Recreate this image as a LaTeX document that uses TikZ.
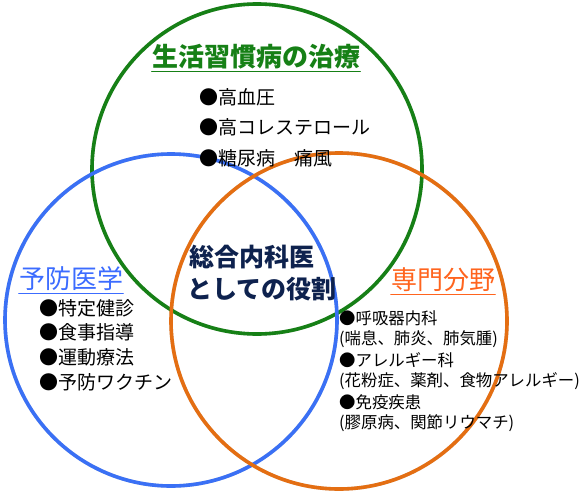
\documentclass[tikz,border=0pt]{standalone}
\usepackage{fontspec}
\setmainfont{Noto Sans CJK JP}
\usepackage{xcolor}
\usepackage{tikz}
\usetikzlibrary{calc,positioning}

\definecolor{ringgreen}{RGB}{22,128,22}
\definecolor{ringblue}{RGB}{58,112,245}
\definecolor{ringorange}{RGB}{228,110,18}
\definecolor{headblue}{RGB}{60,108,255}
\definecolor{headorange}{RGB}{255,100,30}
\definecolor{rolenavy}{RGB}{14,34,78}

\tikzset{
  ring/.style={line width=3.6pt},
  ringshadow/.style={line width=3.6pt, black!14, shift={(1.5,2.5)}},
  headtext/.style={inner sep=0pt, font=\fontsize{26}{26}\selectfont},
  itemtext/.style={anchor=west, inner sep=0pt, font=\fontsize{19}{19}\selectfont},
  smalltext/.style={anchor=west, inner sep=0pt, font=\fontsize{16.4}{16.4}\selectfont},
  roletext/.style={inner sep=0pt, rolenavy, font=\bfseries\fontsize{25}{25}\selectfont},
}

\begin{document}
\begin{tikzpicture}[x=1pt, y=-1pt, line cap=round, line join=round]

% ---------------------------------------------------------
% Parameters (picture is 580 x 492, y runs downwards)
% ---------------------------------------------------------
\pgfmathsetmacro{\Rg}{165}     % radius, green ring
\pgfmathsetmacro{\Rb}{166}     % radius, blue ring
\pgfmathsetmacro{\Ro}{168}     % radius, orange ring
\pgfmathsetmacro{\gap}{30.5}   % line step, green list
\pgfmathsetmacro{\bgap}{24.7}  % line step, blue list
\pgfmathsetmacro{\ogap}{21}    % line step, orange list

\useasboundingbox (0,0) rectangle (580,492);

% ---------------------------------------------------------
% Key points
% ---------------------------------------------------------
\coordinate (G) at (257,169);   % centre, green ring
\coordinate (B) at (171,320);   % centre, blue ring
\coordinate (O) at (339,321);   % centre, orange ring

% ---------------------------------------------------------
% Rings (soft shadow first)
% ---------------------------------------------------------
\draw[ringshadow] (G) circle[radius=\Rg];
\draw[ringshadow] (B) circle[radius=\Rb];
\draw[ringshadow] (O) circle[radius=\Ro];

\draw[ring, ringgreen]  (G) circle[radius=\Rg];
\draw[ring, ringblue]   (B) circle[radius=\Rb];
\draw[ring, ringorange] (O) circle[radius=\Ro];

% ---------------------------------------------------------
% Headings
% ---------------------------------------------------------
\node[headtext, ringgreen, font=\bfseries\fontsize{26}{26}\selectfont]
  (lifestyle) at (256,57) {生活習慣病の治療};
\draw[ringgreen, line width=1.3pt]
  ($(lifestyle.south west)+(0,2)$) -- ($(lifestyle.south east)+(0,2)$);

\node[headtext, headblue] (prevent) at (71,279) {予防医学};
\draw[headblue, line width=1.2pt]
  ($(prevent.south west)+(0,2)$) -- ($(prevent.south east)+(0,2)$);

\node[headtext, headorange] (special) at (443,280) {専門分野};
\draw[headorange, line width=1.2pt]
  ($(special.south west)+(0,2)$) -- ($(special.south east)+(0,2)$);

% ---------------------------------------------------------
% Centre: role of the general internist
% ---------------------------------------------------------
\node[roletext] (role1) at (252,257) {総合内科医};
\node[roletext, below=8pt of role1.south, anchor=north, xshift=10pt]
  (role2) {としての役割};

% ---------------------------------------------------------
% Green list
% ---------------------------------------------------------
\coordinate (gl) at (199,97);
\node[itemtext] (g1) at (gl) {●高血圧};
\node[itemtext] (g2) at ($(gl)+(0,\gap)$) {●高コレステロール};
\node[itemtext] (g3) at ($(gl)+(0,2*\gap)$) {●糖尿病　痛風};

% ---------------------------------------------------------
% Blue list
% ---------------------------------------------------------
\coordinate (bl) at (39,308);
\node[itemtext] (b1) at (bl) {●特定健診};
\node[itemtext] (b2) at ($(bl)+(0,\bgap)$) {●食事指導};
\node[itemtext] (b3) at ($(bl)+(0,2*\bgap)$) {●運動療法};
\node[itemtext] (b4) at ($(bl)+(0,3*\bgap)$) {●予防ワクチン};

% ---------------------------------------------------------
% Orange list
% ---------------------------------------------------------
\coordinate (ol) at (339,318);
\node[smalltext] (o1) at (ol) {●呼吸器内科};
\node[smalltext] (o2) at ($(ol)+(0,\ogap)$) {(喘息、肺炎、肺気腫)};
\node[smalltext] (o3) at ($(ol)+(0,2*\ogap)$) {●アレルギー科};
\node[smalltext] (o4) at ($(ol)+(0,3*\ogap)$) {(花粉症、薬剤、食物アレルギー)};
\node[smalltext] (o5) at ($(ol)+(0,4*\ogap)$) {●免疫疾患};
\node[smalltext] (o6) at ($(ol)+(0,5*\ogap)$) {(膠原病、関節リウマチ)};

\end{tikzpicture}
\end{document}
